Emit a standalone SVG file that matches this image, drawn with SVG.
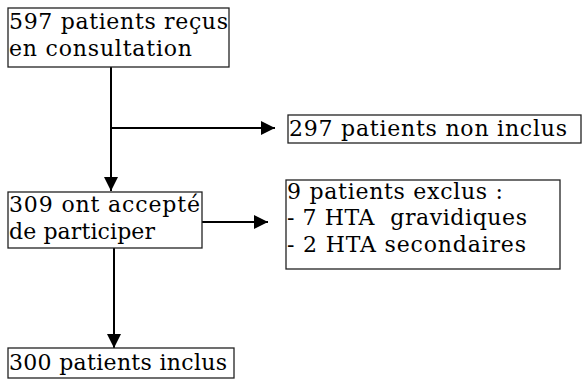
<svg xmlns="http://www.w3.org/2000/svg" width="582" height="379" viewBox="0 0 582 379">
<defs>
<marker id="ah" viewBox="0 0 10 10" refX="10" refY="5" markerWidth="8" markerHeight="7" markerUnits="strokeWidth" orient="auto">
<path d="M0,0 L10,5 L0,10 Z" fill="#000"/>
</marker>
<style>
.box{fill:#fff;stroke:#222;stroke-width:1.3}
.t{font-family:"DejaVu Serif","Liberation Serif",serif;font-size:22px;fill:#000}
.c{stroke:#000;stroke-width:2;fill:none}
</style>
</defs>
<rect width="582" height="379" fill="#fff"/>
<g id="connectors">
<path class="c" d="M111,67 V191" marker-end="url(#ah)"/>
<path class="c" d="M111,128 H275" marker-end="url(#ah)"/>
<path class="c" d="M202,222 H268" marker-end="url(#ah)"/>
<path class="c" d="M114,248 V348" marker-end="url(#ah)"/>
</g>
<g id="n1">
<rect class="box" x="8" y="8" width="221" height="59"/>
<text class="t" x="9" y="29" textLength="219">597 patients reçus</text>
<text class="t" x="9" y="56" textLength="183">en consultation</text>
</g>
<g id="n2">
<rect class="box" x="288" y="115" width="293" height="28"/>
<text class="t" x="289" y="136" textLength="278">297 patients non inclus</text>
</g>
<g id="n3">
<rect class="box" x="8" y="192" width="194" height="56"/>
<text class="t" x="9" y="212" textLength="191">309 ont accepté</text>
<text class="t" x="9" y="239" textLength="146">de participer</text>
</g>
<g id="n4">
<rect class="box" x="286" y="180" width="274" height="89"/>
<text class="t" x="287" y="199" textLength="216">9 patients exclus :</text>
<text class="t" x="287" y="225" textLength="240" xml:space="preserve">- 7 HTA  gravidiques</text>
<text class="t" x="287" y="252" textLength="239">- 2 HTA secondaires</text>
</g>
<g id="n5">
<rect class="box" x="8" y="348" width="226" height="30"/>
<text class="t" x="9" y="370" textLength="218">300 patients inclus</text>
</g>
</svg>
